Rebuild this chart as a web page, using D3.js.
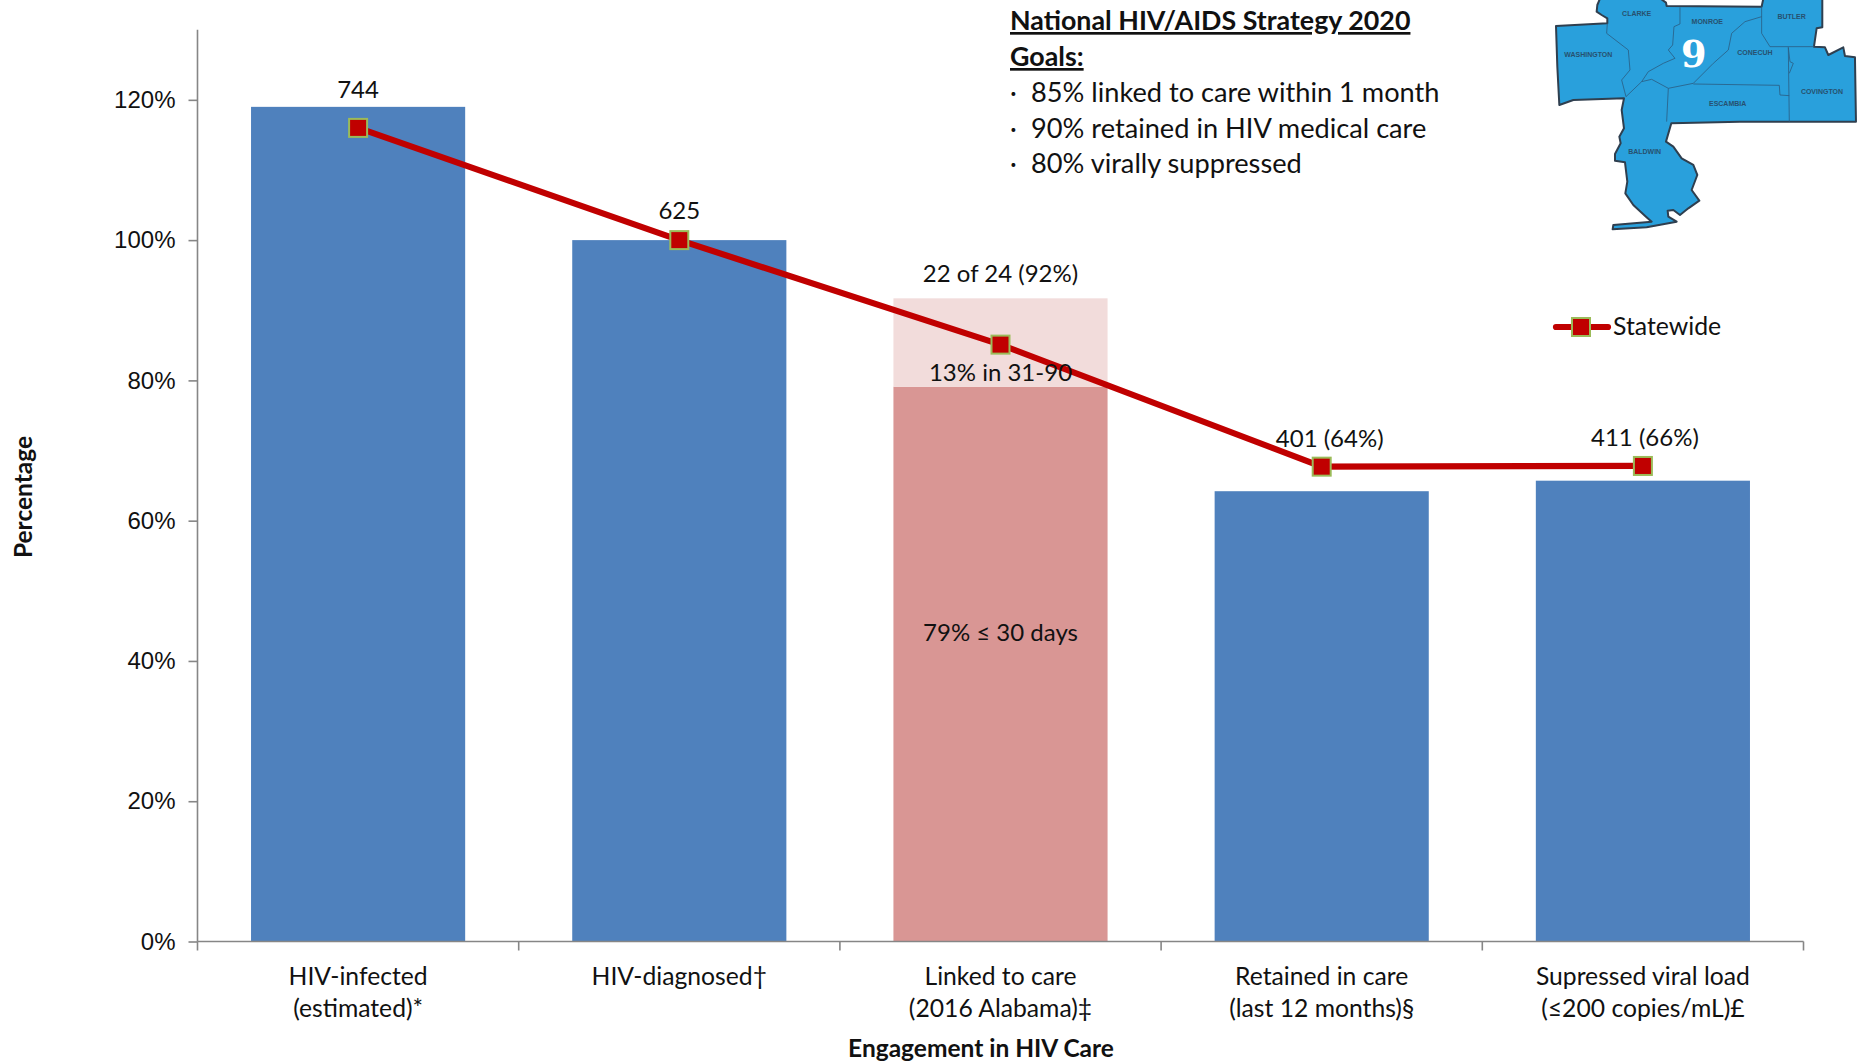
<!DOCTYPE html>
<html><head><meta charset="utf-8"><script src="https://cdn.jsdelivr.net/npm/d3@7"></script>
<style>html,body{margin:0;background:#fff}svg{display:block}text{font-family:Lato,"Open Sans",sans-serif;fill:#111}</style></head>
<body><svg id="c" width="1866" height="1063"></svg>
<script>
const categories=[["HIV-infected","(estimated)*"],["HIV-diagnosed†"],["Linked to care","(2016 Alabama)‡"],["Retained in care","(last 12 months)§"],["Supressed viral load","(≤200 copies/mL)£"]];
const barValues=[119,100,null,64.2,65.7];
const linkedWithin30=79.1;
const linkedWithin90=91.7;
const statewide=[116,100,85.1,67.7,67.8];
const topLabels=["744","625","22 of 24 (92%)","401 (64%)","411 (66%)"];
const yTicks=[0,20,40,60,80,100,120];
const goalsTitle=["National HIV/AIDS Strategy 2020","Goals:"];
const goals=["85% linked to care within 1 month","90% retained in HIV medical care","80% virally suppressed"];
const FS=24;
const svg=d3.select("#c");
const y=d3.scaleLinear().domain([0,130]).range([941.5,29.7]);
const x=d3.scaleBand().domain(d3.range(5)).range([197.5,1803.5]).paddingInner(1/3).paddingOuter(1/6);
const cx=i=>x(i)+x.bandwidth()/2;
// bars
svg.append("g").selectAll("rect").data(barValues.map((v,i)=>({v,i})).filter(d=>d.v!=null)).join("rect")
 .attr("x",d=>x(d.i)).attr("width",x.bandwidth()).attr("y",d=>y(d.v)).attr("height",d=>y(0)-y(d.v)).attr("fill","#4F81BD");
svg.append("rect").attr("x",x(2)).attr("width",x.bandwidth()).attr("y",y(linkedWithin30)).attr("height",y(0)-y(linkedWithin30)).attr("fill","#D99694");
svg.append("rect").attr("x",x(2)).attr("width",x.bandwidth()).attr("y",y(linkedWithin90)).attr("height",y(linkedWithin30)-y(linkedWithin90)).attr("fill","#F2DCDB");
// axes
const axC="#868686";
const ya=svg.append("g").attr("transform","translate(197.5,0)").call(d3.axisLeft(y).tickValues(yTicks).tickFormat(d=>d+"%").tickSize(9).tickPadding(12));
ya.selectAll("path,line").attr("stroke",axC).attr("stroke-width",1.6);
ya.select("path").attr("d",`M0,${y(130)}V${y(0)}`);
ya.selectAll("text").attr("font-size",FS).attr("fill","#111").attr("dx",-1).style("font-family","inherit");
const xg=svg.append("g");
xg.append("line").attr("x1",197.5).attr("x2",1803.5).attr("y1",y(0)).attr("y2",y(0)).attr("stroke",axC).attr("stroke-width",1.6);
xg.selectAll("line.t").data(d3.range(6)).join("line").attr("class","t")
 .attr("x1",i=>197.5+i*x.step()).attr("x2",i=>197.5+i*x.step()).attr("y1",y(0)).attr("y2",y(0)+9).attr("stroke",axC).attr("stroke-width",1.6);
categories.forEach((lines,i)=>lines.forEach((t,k)=>{
 svg.append("text").attr("x",cx(i)).attr("y",985+k*32).attr("text-anchor","middle").attr("font-size",24.7).text(t);
}));
svg.append("text").attr("x",981).attr("y",1057).attr("text-anchor","middle").attr("font-size",24.5).attr("font-weight",700).text("Engagement in HIV Care");
svg.append("text").attr("transform","translate(32,497) rotate(-90)").attr("text-anchor","middle").attr("font-size",24.5).attr("font-weight",700).text("Percentage");
// line
const line=d3.line().x((d,i)=>cx(i)).y(d=>y(d));
svg.append("path").attr("d",line(statewide)).attr("fill","none").attr("stroke","#C00000").attr("stroke-width",6.2);
const marker=(g,px,py)=>g.append("rect").attr("x",px-9).attr("y",py-9).attr("width",18).attr("height",18).attr("fill","#C00000").attr("stroke","#9BBB59").attr("stroke-width",2);
statewide.forEach((v,i)=>marker(svg,cx(i),y(v)));
// labels, baselines measured from each label's anchor value
const labelBase=[statewide[0],statewide[1],linkedWithin90,statewide[3],statewide[4]];
const labelRise=[30,21,16,20,20];
const labelShift=[0,0,0,8,2];
topLabels.forEach((t,i)=>{
 svg.append("text").attr("x",cx(i)+labelShift[i]).attr("y",y(labelBase[i])-labelRise[i]).attr("text-anchor","middle").attr("font-size",FS).text(t);
});
svg.append("text").attr("x",cx(2)).attr("y",381).attr("text-anchor","middle").attr("font-size",FS).text("13% in 31-90");
svg.append("text").attr("x",cx(2)).attr("y",641).attr("text-anchor","middle").attr("font-size",FS).text("79% ≤ 30 days");
// goals
goalsTitle.forEach((t,i)=>svg.append("text").attr("x",1010).attr("y",30+i*36).attr("font-size",26.8).attr("font-weight",700).attr("text-decoration","underline").text(t));
goals.forEach((t,i)=>{
 svg.append("text").attr("x",1010).attr("y",102+i*36-(i==2?1:0)).attr("font-size",26).text("·");
 svg.append("text").attr("x",1031).attr("y",102+i*36-(i==2?1:0)).attr("font-size",27.2).text(t);
});
// legend
svg.append("line").attr("x1",1556).attr("x2",1608).attr("y1",327).attr("y2",327).attr("stroke","#C00000").attr("stroke-width",6.2).attr("stroke-linecap","round");
marker(svg,1581,327);
svg.append("text").attr("x",1613).attr("y",335).attr("font-size",24.8).text("Statewide");
// map (decorative inset, traced)
const map=svg.append("g").attr("transform","translate(1500,0) scale(0.3333)");
const outer="M300,-4 L292,15 L290,35 L305,45 L322,55 L322,70 L168,78 L172,200 L178,315 L220,300 L372,295 L365,330 L372,385 L358,410 L362,430 L345,462 L345,482 L375,487 L382,545 L376,580 L400,615 L438,650 L455,665 L340,675 L338,688 L440,682 L530,665 L505,650 L503,632 L520,630 L540,645 L565,625 L598,602 L575,570 L592,525 L580,495 L545,475 L520,440 L498,425 L514,370 L720,365 L1068,365 L1065,172 L1035,168 L1030,142 L985,165 L975,142 L942,140 L950,85 L967,82 L967,-4 L790,-4 L785,20 L500,18 L498,8 L482,-4 Z";
map.append("path").attr("d",outer).attr("fill","#29A0DC").attr("stroke","#2F3F4F").attr("stroke-width",6).attr("stroke-linejoin","round");
const inner=["M540,22 L540,72 L522,80 L518,135 L505,150 L525,175 L490,190 L445,215 L425,245 L378,290 L365,240 L390,210 L385,150 L320,100 L322,70",
"M785,50 L735,65 L695,100 L685,150 L640,190 L580,250 L505,265 L500,365",
"M425,245 L455,238 L505,265",
"M785,20 L785,100 L810,140 L942,140",
"M865,142 L868,365 M580,252 L838,256 L840,285 L868,287",
"M865,142 L870,185 L880,190 L868,220"];
map.selectAll("path.i").data(inner).join("path").attr("class","i").attr("d",d=>d).attr("fill","none").attr("stroke","#2A5F85").attr("stroke-width",2.5);
[["CLARKE",410,47],["MONROE",622,73],["BUTLER",875,56],["WASHINGTON",265,170],["CONECUH",765,166],["ESCAMBIA",683,317],["COVINGTON",966,283],["BALDWIN",434,463]].forEach(([t,a,b])=>{
 map.append("text").attr("x",a).attr("y",b).attr("text-anchor","middle").attr("font-size",21).attr("font-weight",700).style("fill","#27516F").style("font-family","Liberation Sans").text(t);
});
map.append("text").attr("x",581).attr("y",200).attr("text-anchor","middle").attr("font-size",110).attr("font-weight",700).style("fill","#fff").style("font-family","DejaVu Serif").text("9");
</script></body></html>
